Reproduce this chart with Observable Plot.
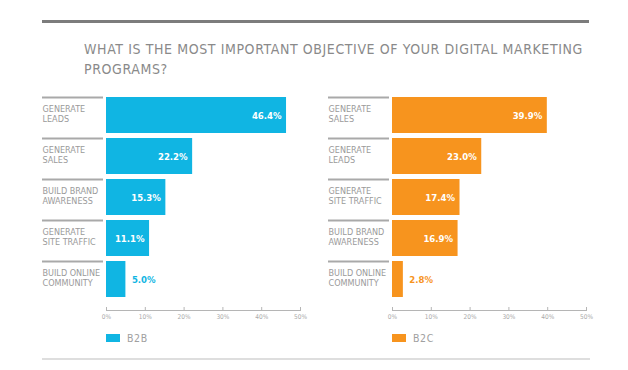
<!DOCTYPE html>
<html>
<head>
<meta charset="utf-8">
<script src="https://cdn.jsdelivr.net/npm/d3@7"></script>
<script src="https://cdn.jsdelivr.net/npm/@observablehq/plot@0.6"></script>
<style>
  html, body { margin: 0; padding: 0; background: #fff; }
  #wrap { position: relative; width: 628px; height: 370px; overflow: hidden; font-family: "Liberation Sans Narrow", "DejaVu Sans Condensed", "Liberation Sans", sans-serif; }
  .rule-top { position: absolute; left: 42px; top: 20px; width: 547px; height: 3px; background: #7c7c7c; }
  .rule-bottom { position: absolute; left: 42px; top: 358px; width: 548px; height: 2px; background: #dedede; }
  .title { position: absolute; left: 84px; top: 40px; font-size: 14px; line-height: 19.5px; color: #8a8a8a; letter-spacing: 0.6px; white-space: nowrap; }
  .panel { position: absolute; top: 90px; }
  .legend { position: absolute; top: 332px; display: flex; align-items: center; font-size: 10.5px; color: #a0a0a0; letter-spacing: 0.6px; }
  .legend .sw { width: 14px; height: 8px; margin-right: 7px; }
  g[aria-label="cat-label"] text { letter-spacing: 0.4px; }
</style>
</head>
<body>
<div id="wrap">
  <div class="rule-top"></div>
  <div class="title">WHAT IS THE MOST IMPORTANT OBJECTIVE OF YOUR DIGITAL MARKETING<br>PROGRAMS?</div>
  <div class="panel" id="left" style="left:0px"></div>
  <div class="panel" id="right" style="left:286px"></div>
  <div class="legend" id="legB2B" style="left:106px"></div>
  <div class="legend" id="legB2C" style="left:392px"></div>
  <div class="rule-bottom"></div>
</div>
<script>
// ---- data ----
const b2bCategories = ["GENERATE\nLEADS", "GENERATE\nSALES", "BUILD BRAND\nAWARENESS", "GENERATE\nSITE TRAFFIC", "BUILD ONLINE\nCOMMUNITY"];
const b2bValues = [46.4, 22.2, 15.3, 11.1, 5.0];
const b2cCategories = ["GENERATE\nSALES", "GENERATE\nLEADS", "GENERATE\nSITE TRAFFIC", "BUILD BRAND\nAWARENESS", "BUILD ONLINE\nCOMMUNITY"];
const b2cValues = [39.9, 23.0, 17.4, 16.9, 2.8];
const seriesNames = ["B2B", "B2C"];
const seriesColors = ["#10b5e3", "#f7941e"];
const xTicks = [0, 10, 20, 30, 40, 50];
const xDomain = [0, 50];

function panel(categories, values, color) {
  const data = categories.map((c, i) => ({cat: c, value: values[i]}));
  const inside = data.filter(d => d.value >= 8);
  const outside = data.filter(d => d.value < 8);
  const W = 320, H = 240, mt = 6, mb = 20, ml = 106, mr = 20;
  const frameH = H - mt - mb;
  return Plot.plot({
    width: W, height: H,
    marginTop: mt, marginBottom: mb, marginLeft: ml, marginRight: mr,
    style: {fontFamily: "'Liberation Sans Narrow', 'DejaVu Sans Condensed', sans-serif", overflow: "visible"},
    x: {domain: xDomain, axis: null},
    y: {type: "band", domain: categories, range: [6, 207], paddingInner: 0.127, paddingOuter: 0, axis: null},
    marks: [
      Plot.ruleY(categories, {y: d => d, dy: -18, insetLeft: -64, insetRight: 197, stroke: "#a9a9a9", strokeWidth: 1.8}),
      Plot.text(data, {y: "cat", text: "cat", frameAnchor: "left", textAnchor: "start", lineAnchor: "top", dx: -64, dy: -11, lineHeight: 1.12, fontSize: 9, fill: "#9a9a9a", ariaLabel: "cat-label"}),
      Plot.barX(data, {x: "value", y: "cat", fill: color}),
      Plot.text(inside, {x: "value", y: "cat", text: d => d.value.toFixed(1) + "%", textAnchor: "end", dx: -5, fill: "white", fontWeight: "bold", fontSize: 9.5}),
      Plot.text(outside, {x: "value", y: "cat", text: d => d.value.toFixed(1) + "%", textAnchor: "start", dx: 6, fill: color, fontWeight: "bold", fontSize: 9.5}),
      Plot.ruleX(xTicks, {x: d => d, insetTop: frameH - 3, stroke: "#b5b5b5", strokeWidth: 1}),
      Plot.frame({anchor: "bottom", stroke: "#b5b5b5"}),
      Plot.axisX({ticks: xTicks, tickFormat: d => d + "%", tickSize: 0, tickPadding: 4, fontSize: 6.5, fill: "#aaaaaa", label: null})
    ]
  });
}

document.getElementById("left").appendChild(panel(b2bCategories, b2bValues, seriesColors[0]));
document.getElementById("right").appendChild(panel(b2cCategories, b2cValues, seriesColors[1]));

[["legB2B", 0], ["legB2C", 1]].forEach(([id, i]) => {
  const el = document.getElementById(id);
  const sw = document.createElement("div");
  sw.className = "sw";
  sw.style.background = seriesColors[i];
  const t = document.createElement("span");
  t.textContent = seriesNames[i];
  el.appendChild(sw);
  el.appendChild(t);
});
</script>
</body>
</html>
